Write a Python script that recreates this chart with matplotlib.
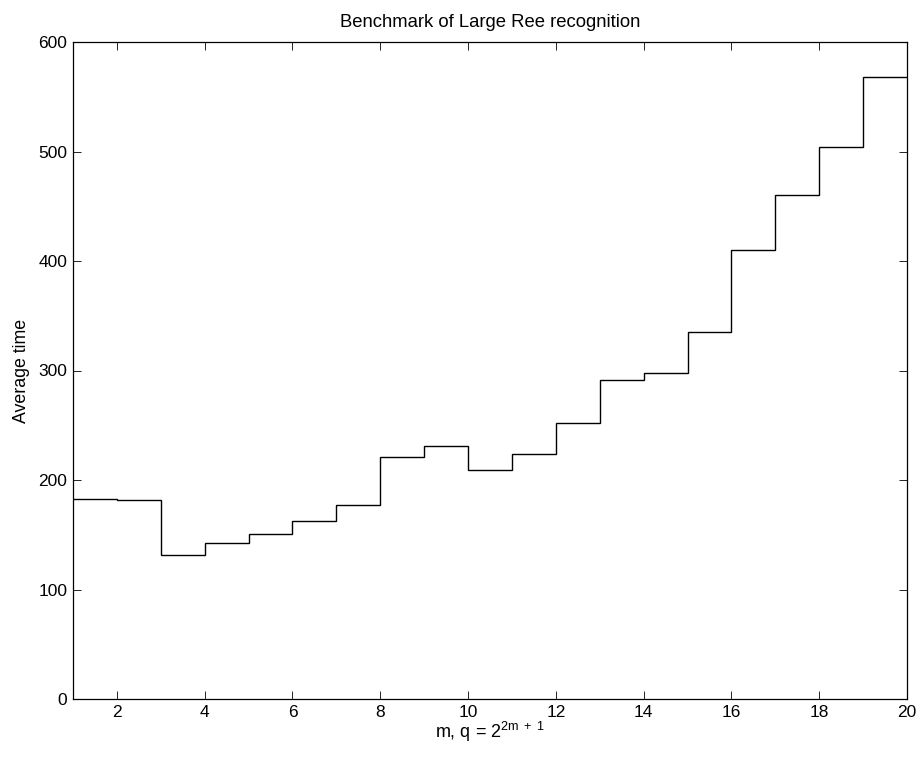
import matplotlib
matplotlib.use("Agg")
import matplotlib.pyplot as plt
import numpy as np

# bordi dei gradini (m) e tempi medi per ogni intervallo
edges = np.arange(1, 21)
tempi = [182.4, 181.7, 131.5, 142.2, 150.4, 162.6, 177.5, 220.7, 231.0, 209.1,
         223.5, 252.3, 291.6, 297.4, 334.9, 409.8, 460.3, 503.8, 567.8]
xticks = [2, 4, 6, 8, 10, 12, 14, 16, 18, 20]
yticks = [0, 100, 200, 300, 400, 500, 600]

plt.rcParams['font.family'] = ['Liberation Sans', 'DejaVu Sans']
plt.rcParams['mathtext.fontset'] = 'custom'
plt.rcParams['mathtext.rm'] = 'Liberation Sans'
plt.rcParams['mathtext.it'] = 'Liberation Sans'

fig = plt.figure(figsize=(9.21, 7.57), dpi=100)
ax = fig.add_axes([73/921, 58/757, 834/921, 657/757])

ax.stairs(tempi, edges, color="black", linewidth=1.0, baseline=None)

ax.set_xlim(1, 20)
ax.set_ylim(0, 600)
ax.set_xticks(xticks)
ax.set_yticks(yticks)
ax.tick_params(direction="in", top=True, right=True, length=5.5, width=0.6, labelsize=12.5, pad=4)
for s in ax.spines.values():
    s.set_linewidth(0.9)

ax.set_title("Benchmark of Large Ree recognition", fontsize=13.3, pad=11)
ax.set_xlabel(r"m, q = 2$^{\mathrm{2m\ +\ 1}}$", fontsize=13, labelpad=0)
ax.set_ylabel("Average time", fontsize=12.8, labelpad=6)

fig.savefig("out.png", dpi=100)
